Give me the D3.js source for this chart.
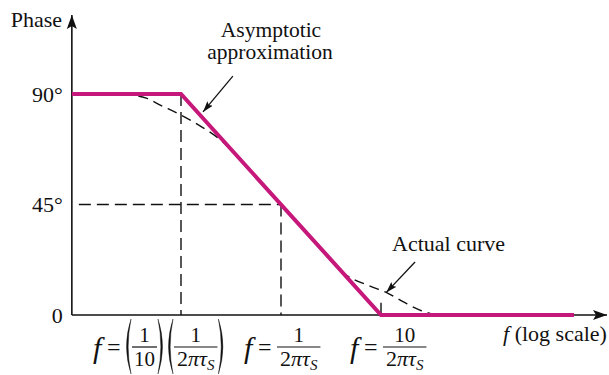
<!DOCTYPE html>
<html>
<head>
<meta charset="utf-8">
<script src="https://cdn.jsdelivr.net/npm/d3@7"></script>
<style>
  html, body { margin: 0; padding: 0; background: #ffffff; }
  svg { display: block; }
  text { font-family: "Liberation Serif", "Times New Roman", serif; fill: #111; }
</style>
</head>
<body>
<svg id="chart" width="609" height="375"></svg>
<script>
// Phase axis ticks (degrees) and their labels
const phaseTicks = [0, 45, 90];
const phaseTickLabels = ["0", "45°", "90°"];

// Frequencies in units of 1/(2πτS)
const breakFreqs = [0.1, 1, 10];

// Straight-line (asymptotic) approximation
const asymFreq = [0.0081, 0.1, 10, 850];
const asymPhase = [90, 90, 0, 0];

// Actual phase curve
const actualFreq = [0.026, 0.045, 0.062, 0.1, 0.155, 0.245, 0.5, 1, 2, 4.4, 7.5, 11.5, 17, 24.5, 35];
const actualPhase = [90, 88.3, 85.5, 81.4, 77, 71.5, 58.5, 45, 31.5, 16.5, 12, 9, 5.2, 2, 0];

const svg = d3.select("#chart");
const MAGENTA = "#c6177a";
const INK = "#111111";

const x = d3.scaleLog().domain([0.1, 10]).range([181, 381]);
const y = d3.scaleLinear().domain([0, 90]).range([315, 94]);

const xAxisEnd = 607;   // arrow tip of the frequency axis
const yAxisTop = 15;    // arrow tip of the phase axis
const x0 = x(asymFreq[0]);

// arrow markers
const defs = svg.append("defs");
defs.append("marker")
  .attr("id", "axisHead").attr("viewBox", "0 0 14 10")
  .attr("refX", 14).attr("refY", 5)
  .attr("markerWidth", 14).attr("markerHeight", 10)
  .attr("markerUnits", "userSpaceOnUse").attr("orient", "auto")
  .append("path").attr("d", "M0,0 L14,5 L0,10 L3,5 Z").attr("fill", INK);
defs.append("marker")
  .attr("id", "noteHead").attr("viewBox", "0 0 11 7")
  .attr("refX", 11).attr("refY", 3.5)
  .attr("markerWidth", 11).attr("markerHeight", 7)
  .attr("markerUnits", "userSpaceOnUse").attr("orient", "auto")
  .append("path").attr("d", "M0,0 L11,3.5 L0,7 L2,3.5 Z").attr("fill", INK);

// dashed guide lines at the break frequencies
const guides = svg.append("g").attr("stroke", INK).attr("stroke-width", 1.4)
  .attr("stroke-dasharray", "12,6").attr("fill", "none");
guides.append("line")
  .attr("x1", x(breakFreqs[0])).attr("x2", x(breakFreqs[0]))
  .attr("y1", y(90)).attr("y2", y(0));
guides.append("line")
  .attr("x1", x(breakFreqs[1])).attr("x2", x(breakFreqs[1]))
  .attr("y1", y(45)).attr("y2", y(0));
guides.append("line")
  .attr("x1", x0 + 7).attr("x2", x(breakFreqs[1]))
  .attr("y1", y(45)).attr("y2", y(45));
svg.append("line")
  .attr("x1", x(breakFreqs[2])).attr("x2", x(breakFreqs[2]))
  .attr("y1", y(5)).attr("y2", y(0))
  .attr("stroke", INK).attr("stroke-width", 1.4);

// actual curve (dashed)
const actualLine = d3.line()
  .x(d => x(d[0])).y(d => y(d[1]))
  .curve(d3.curveMonotoneX);
svg.append("path")
  .datum(d3.zip(actualFreq, actualPhase))
  .attr("d", actualLine)
  .attr("fill", "none").attr("stroke", INK).attr("stroke-width", 1.4)
  .attr("stroke-dasharray", "10,6");

// axes
svg.append("line")
  .attr("x1", x0).attr("y1", y(0)).attr("x2", xAxisEnd).attr("y2", y(0))
  .attr("stroke", INK).attr("stroke-width", 1.6).attr("marker-end", "url(#axisHead)");
svg.append("line")
  .attr("x1", x0).attr("y1", y(0)).attr("x2", x0).attr("y2", yAxisTop)
  .attr("stroke", INK).attr("stroke-width", 1.6).attr("marker-end", "url(#axisHead)");

const yAxis = d3.axisLeft(y).tickValues(phaseTicks)
  .tickSize(0).tickPadding(9)
  .tickFormat((d, i) => phaseTickLabels[i]);
const yAxisG = svg.append("g").attr("transform", `translate(${x0},0)`).call(yAxis);
yAxisG.select(".domain").remove();
yAxisG.selectAll("text")
  .attr("font-family", "'Liberation Serif', 'Times New Roman', serif")
  .attr("font-size", 22).attr("fill", INK);

// asymptotic approximation (magenta)
const asymLine = d3.line().x(d => x(d[0])).y(d => y(d[1]));
svg.append("path")
  .datum(d3.zip(asymFreq, asymPhase))
  .attr("d", asymLine)
  .attr("fill", "none").attr("stroke", MAGENTA).attr("stroke-width", 4)
  .attr("stroke-linejoin", "miter");

// annotations
svg.append("text").attr("x", 62).attr("y", 27).attr("text-anchor", "end")
  .attr("font-size", 22).text("Phase");

svg.append("text").attr("x", 271).attr("y", 37).attr("text-anchor", "middle")
  .attr("font-size", 21.5).text("Asymptotic");
svg.append("text").attr("x", 270).attr("y", 59).attr("text-anchor", "middle")
  .attr("font-size", 21.5).text("approximation");
svg.append("line")
  .attr("x1", x(0.33)).attr("y1", y(97.3))
  .attr("x2", x(0.166)).attr("y2", y(82.7))
  .attr("stroke", INK).attr("stroke-width", 1.3).attr("marker-end", "url(#noteHead)");

svg.append("text").attr("x", 392).attr("y", 251)
  .attr("font-size", 22).text("Actual curve");
svg.append("line")
  .attr("x1", x(21.9)).attr("y1", y(21.6))
  .attr("x2", x(11.3)).attr("y2", y(9.2))
  .attr("stroke", INK).attr("stroke-width", 1.3).attr("marker-end", "url(#noteHead)");

const xTitle = svg.append("text").attr("x", 503).attr("y", 341).attr("font-size", 22);
xTitle.append("tspan").attr("font-style", "italic").text("f");
xTitle.append("tspan").text(" (log scale)");

// frequency labels below the axis, laid out piece by piece
const mainBase = 355, barY = 347, numBase = 342, denBase = 366;

function paren(g, px, open) {
  const top = 319, bot = 374, mid = (top + bot) / 2, w = 7;
  const d = open
    ? `M${px + w},${top} Q${px - 2},${mid} ${px + w},${bot} Q${px + 1.4},${mid} ${px + w},${top} Z`
    : `M${px},${top} Q${px + w + 2},${mid} ${px},${bot} Q${px + w - 1.4},${mid} ${px},${top} Z`;
  g.append("path").attr("d", d).attr("fill", INK).attr("stroke", INK).attr("stroke-width", 0.4);
  return w + 1;
}

function denom(g, cx) {
  const t = g.append("text").attr("x", cx).attr("y", denBase)
    .attr("text-anchor", "middle").attr("font-size", 22);
  t.append("tspan").text("2");
  t.append("tspan").attr("font-style", "italic").text("πτ");
  t.append("tspan").attr("font-style", "italic").attr("font-size", 15).attr("dy", 4).text("S");
  return t.node().getComputedTextLength();
}

function fraction(g, fx, numText) {
  const tmp = g.append("g");
  const dw = denom(tmp, 0);
  tmp.remove();
  const w = Math.max(dw, numText.length * 11) + 6;
  const cx = fx + w / 2;
  g.append("text").attr("x", cx).attr("y", numBase).attr("text-anchor", "middle")
    .attr("font-size", 21).text(numText);
  g.append("line").attr("x1", fx).attr("x2", fx + w).attr("y1", barY).attr("y2", barY)
    .attr("stroke", INK).attr("stroke-width", 1.2);
  denom(g, cx);
  return w;
}

function simpleFraction(g, fx, numText, denText) {
  const w = 25;
  const cx = fx + w / 2;
  g.append("text").attr("x", cx).attr("y", numBase).attr("text-anchor", "middle")
    .attr("font-size", 21).text(numText);
  g.append("line").attr("x1", fx).attr("x2", fx + w).attr("y1", barY).attr("y2", barY)
    .attr("stroke", INK).attr("stroke-width", 1.2);
  g.append("text").attr("x", cx).attr("y", denBase).attr("text-anchor", "middle")
    .attr("font-size", 21).text(denText);
  return w;
}

function fEquals(g, fx) {
  g.append("text").attr("x", fx).attr("y", mainBase + 3).attr("font-size", 30)
    .attr("font-style", "italic").text("f");
  g.append("text").attr("x", fx + 14).attr("y", mainBase).attr("font-size", 24).text("=");
  return 31;
}

const labels = svg.append("g");
// f = (1/10)(1/2πτS)
{
  let cx = x(breakFreqs[0]) - 88;
  cx += fEquals(labels, cx);
  cx += paren(labels, cx, true);
  cx += simpleFraction(labels, cx, "1", "10");
  cx += 1 + paren(labels, cx + 1, false);
  cx += paren(labels, cx, true);
  cx += fraction(labels, cx, "1");
  paren(labels, cx + 1, false);
}
// f = 1/2πτS
{
  let cx = x(breakFreqs[1]) - 37;
  cx += fEquals(labels, cx) + 2;
  fraction(labels, cx, "1");
}
// f = 10/2πτS
{
  let cx = x(breakFreqs[2]) - 31;
  cx += fEquals(labels, cx) + 2;
  fraction(labels, cx, "10");
}
</script>
</body>
</html>
